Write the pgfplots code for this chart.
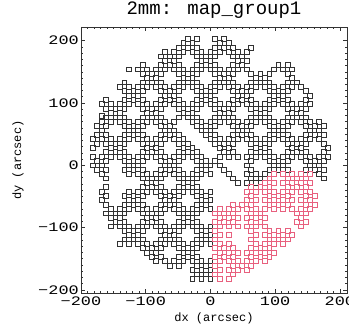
\documentclass[border=0pt]{standalone}
\usepackage{pgfplots}
\pgfplotsset{compat=1.18}
\usepackage{fontspec}
\setmainfont{Liberation Mono}
\newfontfamily\tickfont[FakeStretch=1.3]{Liberation Mono}
\definecolor{mapred}{RGB}{232,96,126}
\definecolor{mapblk}{RGB}{50,50,50}
\begin{document}
\begin{tikzpicture}
\begin{axis}[name=ax, scale only axis, width=266pt, height=266pt,
  xmin=-200, xmax=211, ymin=-205, ymax=222,
  xtick={-200,-100,0,100,200}, ytick={-200,-100,0,100,200},
  xticklabels={−200,−100,0,100,200}, yticklabels={−200,−100,0,100,200},
  minor x tick num=9, minor y tick num=9,
  tick align=inside, xtick pos=both, ytick pos=both,
  major tick length=4pt, minor tick length=2pt,
  axis line style={line width=0.7pt, black!80},
  every tick/.style={black!80, line width=0.6pt},
  tick label style={font=\tickfont\fontsize{13}{13}\selectfont},
  yticklabel style={inner sep=2pt},
  title={2mm: map\_group1},
  title style={at={(axis description cs:0.5,1.0245)}, anchor=base, font=\fontsize{19}{19}\selectfont},
  xlabel={dx (arcsec)}, ylabel={dy (arcsec)},
  xlabel style={at={(axis description cs:0.5,-0.108)}, anchor=base, font=\fontsize{12}{12}\selectfont},
  ylabel style={at={(axis description cs:-0.237,0.5)}, anchor=center, font=\fontsize{12}{12}\selectfont},
]
\addplot[only marks, mark=square, mark size=2.4pt, mark options={line width=0.7pt, draw=mapblk}] coordinates {
(-35,203) (-21,203) (7,203) (21,203)
(-42,196) (-28,196) (14,196) (28,196)
(-49,189) (-35,189) (-21,189) (7,189) (21,189) (35,189) (63,189)
(-70,182) (-56,182) (-42,182) (-28,182) (-14,182) (0,182) (14,182) (28,182) (42,182) (56,182)
(-77,175) (-63,175) (-49,175) (-21,175) (-7,175) (7,175) (35,175) (49,175)
(-70,168) (-56,168) (-14,168) (0,168) (42,168) (56,168)
(-105,161) (-77,161) (-63,161) (-49,161) (-21,161) (-7,161) (7,161) (35,161) (49,161) (105,161) (119,161)
(-126,154) (-112,154) (-98,154) (-84,154) (-70,154) (-56,154) (-42,154) (-28,154) (-14,154) (0,154) (14,154) (28,154) (42,154) (56,154) (98,154) (112,154) (126,154)
(-105,147) (-91,147) (-77,147) (-49,147) (-35,147) (-21,147) (7,147) (21,147) (35,147) (63,147) (77,147) (91,147) (119,147)
(-98,140) (-84,140) (-42,140) (-28,140) (14,140) (28,140) (70,140) (84,140) (126,140)
(-133,133) (-105,133) (-91,133) (-77,133) (-49,133) (-35,133) (-21,133) (7,133) (21,133) (35,133) (63,133) (77,133) (91,133) (119,133) (133,133)
(-140,126) (-126,126) (-112,126) (-98,126) (-84,126) (-70,126) (-56,126) (-42,126) (-28,126) (-14,126) (0,126) (14,126) (28,126) (42,126) (56,126) (70,126) (84,126) (98,126) (112,126) (126,126) (140,126)
(-133,119) (-119,119) (-105,119) (-77,119) (-63,119) (-49,119) (-21,119) (-7,119) (7,119) (35,119) (49,119) (63,119) (91,119) (105,119) (119,119) (147,119)
(-126,112) (-112,112) (-70,112) (-56,112) (-14,112) (0,112) (42,112) (56,112) (98,112) (112,112) (154,112)
(-161,105) (-133,105) (-119,105) (-105,105) (-77,105) (-63,105) (-49,105) (-21,105) (-7,105) (7,105) (35,105) (49,105) (63,105) (91,105) (105,105) (119,105) (147,105)
(-168,98) (-154,98) (-140,98) (-126,98) (-112,98) (-98,98) (-84,98) (-70,98) (-56,98) (-42,98) (-28,98) (-14,98) (0,98) (14,98) (28,98) (42,98) (56,98) (70,98) (84,98) (98,98) (112,98) (126,98) (140,98) (154,98)
(-161,91) (-147,91) (-133,91) (-105,91) (-91,91) (-77,91) (-49,91) (-35,91) (-21,91) (7,91) (21,91) (35,91) (63,91) (77,91) (91,91) (119,91) (133,91) (147,91)
(-154,84) (-140,84) (-98,84) (-84,84) (-42,84) (-28,84) (14,84) (28,84) (70,84) (84,84) (126,84) (140,84)
(-168,80) (-161,77) (-147,77) (-133,77) (-105,77) (-91,77) (-77,77) (-49,77) (-35,77) (-21,77) (7,77) (21,77) (35,77) (63,77) (77,77) (91,77) (119,77) (133,77) (147,77)
(-168,70) (-154,70) (-140,70) (-126,70) (-112,70) (-98,70) (-84,70) (-70,70) (-56,70) (-28,70) (-14,70) (0,70) (14,70) (28,70) (42,70) (56,70) (70,70) (84,70) (98,70) (112,70) (126,70) (140,70) (154,70) (168,70)
(-175,63) (-161,63) (-133,63) (-119,63) (-105,63) (-77,63) (-63,63) (-21,63) (-7,63) (7,63) (35,63) (49,63) (63,63) (91,63) (105,63) (119,63) (147,63) (161,63) (175,63)
(-168,56) (-126,56) (-112,56) (-70,56) (-56,56) (-14,56) (0,56) (42,56) (56,56) (98,56) (112,56) (154,56) (168,56)
(-175,49) (-161,49) (-133,49) (-119,49) (-105,49) (-77,49) (-63,49) (-49,49) (-7,49) (7,49) (35,49) (49,49) (63,49) (91,49) (105,49) (119,49) (147,49) (161,49) (175,49)
(-182,42) (-168,42) (-154,42) (-140,42) (-126,42) (-112,42) (-98,42) (-84,42) (-70,42) (-56,42) (-42,42) (0,42) (14,42) (28,42) (42,42) (56,42) (70,42) (84,42) (98,42) (112,42) (126,42) (140,42) (154,42) (168,42)
(-175,35) (-161,35) (-147,35) (-133,35) (-105,35) (-91,35) (-77,35) (-49,35) (-35,35) (7,35) (21,35) (35,35) (63,35) (77,35) (91,35) (119,35) (133,35) (147,35) (175,35)
(-182,28) (-154,28) (-140,28) (-98,28) (-84,28) (-42,28) (-28,28) (14,28) (28,28) (70,28) (84,28) (126,28) (140,28) (182,28)
(-161,21) (-147,21) (-133,21) (-105,21) (-91,21) (-77,21) (-49,21) (-35,21) (-21,21) (21,21) (35,21) (63,21) (77,21) (91,21) (119,21) (133,21) (147,21) (175,21)
(-182,14) (-168,14) (-154,14) (-140,14) (-126,14) (-112,14) (-98,14) (-84,14) (-70,14) (-56,14) (-42,14) (-28,14) (-14,14) (14,14) (28,14) (42,14) (56,14) (70,14) (84,14) (98,14) (112,14) (126,14) (140,14) (154,14) (168,14) (182,14)
(-175,7) (-161,7) (-133,7) (-119,7) (-105,7) (-77,7) (-63,7) (-49,7) (-21,7) (-7,7) (7,7) (63,7) (91,7) (105,7) (119,7) (147,7) (161,7) (175,7)
(-182,0) (-168,0) (-126,0) (-112,0) (-70,0) (-56,0) (-14,0) (0,0) (14,0) (56,0) (98,0) (112,0) (154,0) (168,0)
(-175,-7) (-161,-7) (-133,-7) (-119,-7) (-105,-7) (-77,-7) (-63,-7) (-49,-7) (-21,-7) (-7,-7) (21,-7) (63,-7) (91,-7) (105,-7) (119,-7) (147,-7) (161,-7) (175,-7)
(-168,-14) (-126,-14) (-112,-14) (-98,-14) (-84,-14) (-70,-14) (-56,-14) (-42,-14) (-28,-14) (-14,-14) (0,-14) (28,-14) (56,-14) (70,-14) (84,-14) (168,-14)
(-161,-21) (-105,-21) (-91,-21) (-77,-21) (-49,-21) (-35,-21) (-21,-21) (35,-21) (63,-21) (77,-21) (175,-21)
(-98,-28) (-84,-28) (-42,-28) (-28,-28) (42,-28) (56,-28) (70,-28)
(-161,-35) (-105,-35) (-91,-35) (-77,-35) (-49,-35) (-35,-35) (-21,-35)
(-168,-42) (-126,-42) (-112,-42) (-98,-42) (-84,-42) (-70,-42) (-56,-42) (-42,-42) (-28,-42) (-14,-42) (0,-42)
(-161,-49) (-133,-49) (-119,-49) (-105,-49) (-77,-49) (-63,-49) (-49,-49) (-21,-49) (-7,-49)
(-168,-56) (-126,-56) (-112,-56) (-70,-56) (-56,-56) (-14,-56) (0,-56)
(-161,-63) (-133,-63) (-119,-63) (-105,-63) (-77,-63) (-63,-63) (-49,-63) (-21,-63) (-7,-63)
(-154,-70) (-140,-70) (-126,-70) (-112,-70) (-98,-70) (-84,-70) (-70,-70) (-56,-70) (-42,-70) (-28,-70) (-14,-70) (0,-70)
(-161,-77) (-147,-77) (-133,-77) (-105,-77) (-91,-77) (-77,-77) (-49,-77) (-35,-77) (-21,-77)
(-154,-84) (-140,-84) (-98,-84) (-84,-84) (-42,-84) (-28,-84)
(-147,-91) (-133,-91) (-105,-91) (-91,-91) (-77,-91) (-49,-91) (-35,-91) (-21,-91)
(-154,-98) (-140,-98) (-126,-98) (-112,-98) (-98,-98) (-84,-98) (-70,-98) (-56,-98) (-42,-98) (-28,-98) (-14,-98) (0,-98)
(-133,-105) (-119,-105) (-105,-105) (-77,-105) (-63,-105) (-49,-105) (-21,-105) (-7,-105)
(-126,-112) (-112,-112) (-70,-112) (-56,-112) (-14,-112) (0,-112)
(-133,-119) (-119,-119) (-105,-119) (-77,-119) (-63,-119) (-49,-119) (-21,-119) (-7,-119)
(-140,-126) (-126,-126) (-112,-126) (-98,-126) (-84,-126) (-70,-126) (-56,-126) (-42,-126) (-28,-126) (-14,-126) (0,-126)
(-105,-133) (-91,-133) (-77,-133) (-49,-133) (-35,-133) (-21,-133)
(-98,-140) (-84,-140) (-42,-140) (-28,-140)
(-91,-147) (-77,-147) (-49,-147) (-35,-147) (-21,-147)
(-84,-154) (-70,-154) (-56,-154) (-42,-154) (-28,-154) (-14,-154) (0,-154)
(-63,-161) (-49,-161) (-21,-161) (-7,-161)
(-28,-168) (-14,-168) (0,-168)
(-21,-175) (-7,-175)
(-28,-182) (-14,-182) (0,-182)
};
\addplot[only marks, mark=square, mark size=2.4pt, mark options={line width=0.7pt, draw=mapred}] coordinates {
(98,-14) (112,-14) (126,-14) (140,-14) (154,-14)
(91,-21) (119,-21) (133,-21) (147,-21)
(84,-28) (98,-28) (112,-28) (126,-28) (140,-28) (154,-28)
(63,-35) (77,-35) (91,-35) (119,-35) (133,-35) (147,-35)
(56,-42) (70,-42) (84,-42) (98,-42) (112,-42) (126,-42) (140,-42) (154,-42)
(63,-49) (91,-49) (105,-49) (119,-49) (147,-49) (161,-49)
(56,-56) (70,-56) (84,-56) (98,-56) (112,-56) (126,-56) (140,-56) (154,-56)
(35,-63) (49,-63) (63,-63) (91,-63) (105,-63) (119,-63) (147,-63) (161,-63)
(14,-70) (28,-70) (42,-70) (56,-70) (70,-70) (84,-70) (98,-70) (112,-70) (126,-70) (140,-70) (154,-70)
(7,-77) (21,-77) (35,-77) (63,-77) (77,-77) (133,-77) (147,-77)
(14,-84) (28,-84) (42,-84) (56,-84) (70,-84) (84,-84) (140,-84)
(7,-91) (21,-91) (35,-91) (63,-91) (77,-91) (133,-91) (147,-91)
(14,-98) (28,-98) (42,-98) (56,-98) (70,-98) (84,-98) (140,-98)
(7,-105) (63,-105) (91,-105) (105,-105) (119,-105)
(14,-112) (28,-112) (70,-112) (84,-112) (98,-112) (112,-112) (126,-112)
(7,-119) (63,-119) (91,-119) (105,-119) (119,-119)
(14,-126) (28,-126) (70,-126) (84,-126) (98,-126) (112,-126)
(7,-133) (21,-133) (35,-133) (63,-133) (77,-133) (91,-133)
(14,-140) (28,-140) (42,-140) (56,-140) (70,-140) (84,-140) (98,-140)
(7,-147) (21,-147) (35,-147) (63,-147) (77,-147) (91,-147)
(14,-154) (28,-154) (42,-154) (56,-154) (70,-154) (84,-154)
(7,-161) (35,-161) (49,-161) (63,-161)
(14,-168) (28,-168) (42,-168) (56,-168)
(7,-175) (35,-175)
(14,-182) (28,-182)
};
\end{axis}
\pgfresetboundingbox
\path[use as bounding box] ([xshift=-81pt,yshift=-37pt]ax.south west) rectangle ++(349pt,330pt);
\end{tikzpicture}
\end{document}
